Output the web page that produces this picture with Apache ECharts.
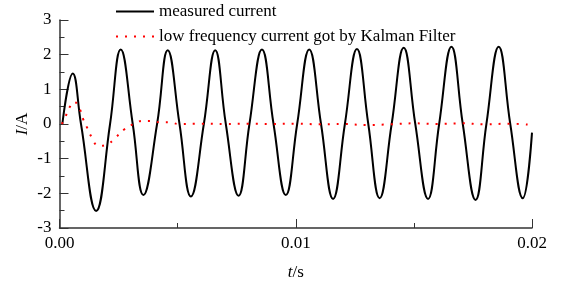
<!DOCTYPE html>
<html>
<head>
<meta charset="utf-8">
<script src="https://cdn.jsdelivr.net/npm/echarts@6/dist/echarts.min.js"></script>
<style>
html,body{margin:0;padding:0;background:#fff;}
#main{width:565px;height:286px;}
</style>
</head>
<body>
<div id="main"></div>
<script>
// 图例名称
var seriesNames = ['measured current', 'low frequency current got by Kalman Filter'];

// 实测电流 (t, I) —— 峰、谷与过零点
var measuredT = [0.00012, 0.00056, 0.00091, 0.00155, 0.00214, 0.00259, 0.0031, 0.00355, 0.00413, 0.00458,
    0.00508, 0.00556, 0.00611, 0.00659, 0.00704, 0.00758, 0.00804, 0.00857, 0.00906, 0.00958,
    0.01006, 0.01057, 0.01107, 0.01158, 0.01208, 0.01259, 0.01307, 0.01355, 0.01406, 0.01457,
    0.01506, 0.0156, 0.01607, 0.01659, 0.01707, 0.01761, 0.01807, 0.01859, 0.01908, 0.01961, 0.02];
var measuredI = [0, 1.46, 0, -2.51, 0, 2.15, 0, -2.05, 0, 2.13,
    0, -2.09, 0, 2.13, 0, -2.07, 0, 2.15, 0, -2.05,
    0, 2.15, 0, -2.16, 0, 2.16, 0, -2.14, 0, 2.2,
    0, -2.16, 0, 2.23, 0, -2.19, 0, 2.23, 0, -2.14, -0.25];

// Kalman滤波得到的低频电流
var kalmanT = [0.0001, 0.00026, 0.0004, 0.00063, 0.00087, 0.001, 0.00118, 0.00136, 0.00164, 0.00202,
    0.00239, 0.00275, 0.00313, 0.0035, 0.00387, 0.00426, 0.00465, 0.00503, 0.006, 0.007,
    0.008, 0.009, 0.010, 0.011, 0.012, 0.013, 0.014, 0.015, 0.016, 0.017,
    0.018, 0.019, 0.0199];
var kalmanI = [0, 0.22, 0.45, 0.64, 0.41, 0.14, -0.12, -0.38, -0.63, -0.59,
    -0.38, -0.15, 0, 0.09, 0.09, 0.05, 0.05, 0, 0.01, 0,
    0.01, 0, 0.01, -0.01, 0, -0.03, -0.01, 0.02, 0, 0.02,
    -0.01, 0.01, -0.02];

function pairs(xs, ys){
    var out = [];
    for(var i = 0; i < xs.length; i++){
        out.push([xs[i], ys[i]]);
    }
    return out;
}

var font = '"Liberation Serif", "Times New Roman", serif';
var fs = 17;
var chart = echarts.init(document.getElementById('main'));

var option = {
    animation: false,
    textStyle: {fontFamily: font},
    legend: {
        orient: 'vertical',
        left: 115,
        top: 3,
        padding: 0,
        itemWidth: 38,
        itemHeight: 14,
        itemGap: 8,
        itemStyle: {opacity: 0},
        textStyle: {fontFamily: font, fontSize: fs, color: '#000'},
        data: seriesNames
    },
    grid: {left: 59.5, right: 33, top: 20, bottom: 58},
    xAxis: {
        type: 'value',
        min: 0, max: 0.02, interval: 0.01,
        name: '{i|t}/s',
        nameLocation: 'middle',
        nameGap: 36,
        nameMoveOverlap: false,
        nameTextStyle: {
            fontFamily: font, fontSize: fs, color: '#000',
            rich: {i: {fontStyle: 'italic', fontFamily: font, fontSize: fs, color: '#000'}}
        },
        axisLine: {onZero: false, lineStyle: {color: '#333', width: 1.5}},
        axisTick: {inside: true, length: 9, lineStyle: {color: '#333', width: 1}},
        minorTick: {show: true, splitNumber: 2, length: 5, lineStyle: {color: '#333', width: 1}},
        splitLine: {show: false},
        axisLabel: {
            fontFamily: font, fontSize: fs, color: '#000', margin: 7,
            formatter: function(v){ return v.toFixed(2); }
        }
    },
    yAxis: {
        type: 'value',
        min: -3, max: 3, interval: 1,
        name: '{i|I}/A',
        nameLocation: 'middle',
        nameGap: 28,
        nameMoveOverlap: false,
        nameTextStyle: {
            fontFamily: font, fontSize: fs, color: '#000',
            rich: {i: {fontStyle: 'italic', fontFamily: font, fontSize: fs, color: '#000'}}
        },
        axisLine: {show: true, onZero: false, lineStyle: {color: '#333', width: 1.5}},
        axisTick: {show: true, inside: true, length: 9, lineStyle: {color: '#333', width: 1}},
        minorTick: {show: true, splitNumber: 2, length: 5, lineStyle: {color: '#333', width: 1}},
        splitLine: {show: false},
        axisLabel: {fontFamily: font, fontSize: fs, color: '#000', margin: 8}
    },
    series: [
        {
            name: seriesNames[0],
            type: 'line',
            data: pairs(measuredT, measuredI),
            smooth: 0.45,
            symbol: 'none',
            lineStyle: {color: '#000', width: 2}
        },
        {
            name: seriesNames[1],
            type: 'line',
            data: pairs(kalmanT, kalmanI),
            smooth: 0.4,
            symbol: 'none',
            lineStyle: {color: '#ff0000', width: 2, type: [2, 7]}
        }
    ]
};
chart.setOption(option);
</script>
</body>
</html>
